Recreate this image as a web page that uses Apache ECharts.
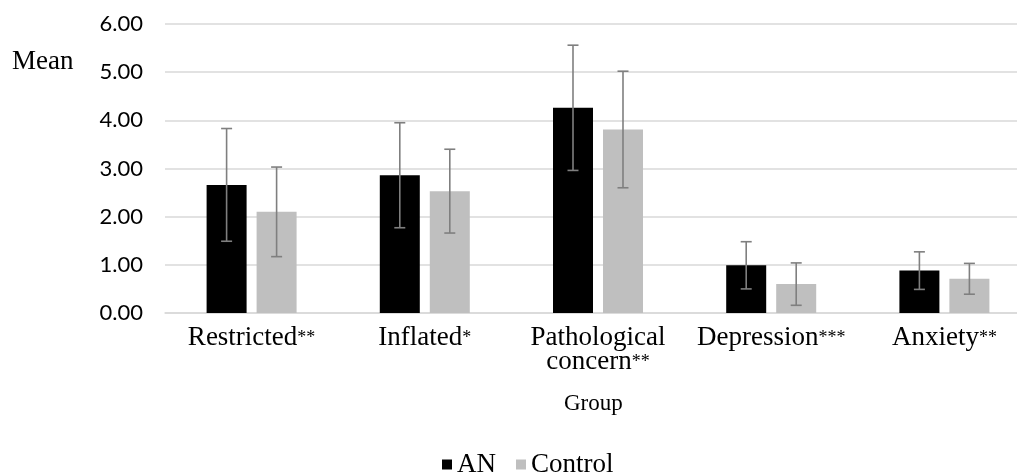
<!DOCTYPE html>
<html>
<head>
<meta charset="utf-8">
<script src="https://cdn.jsdelivr.net/npm/echarts@6/dist/echarts.min.js"></script>
<style>html,body{margin:0;padding:0;background:#fff;overflow:hidden;width:1017px;height:474px;}#c{width:1031px;height:474px;}</style>
</head>
<body>
<div id="c"></div>
<script>
var categories = ['Restricted', 'Inflated', 'Pathological\nconcern', 'Depression', 'Anxiety'];
var stars = ['**', '*', '**', '***', '**'];
var anMean = [2.66, 2.86, 4.26, 0.99, 0.88];
var anSD = [1.17, 1.09, 1.30, 0.49, 0.39];
var ctrlMean = [2.10, 2.53, 3.81, 0.60, 0.71];
var ctrlSD = [0.93, 0.87, 1.21, 0.44, 0.32];
var yTicks = [0, 1, 2, 3, 4, 5, 6];

var chart = echarts.init(document.getElementById('c'), null, {renderer: 'canvas'});
var serif = 'Liberation Serif';
var BW = 40, GAP = 10;

function errSeries(name, means, sds, offset) {
  return {
    type: 'custom',
    name: name + ' err',
    z: 10,
    silent: true,
    data: means.map(function (m, i) { return [i, m - sds[i], m + sds[i]]; }),
    renderItem: function (params, api) {
      var lo = api.coord([api.value(0), api.value(1)]);
      var hi = api.coord([api.value(0), api.value(2)]);
      var x = lo[0] + offset;
      var cap = 5.5;
      var st = {stroke: '#7f7f7f', lineWidth: 1.6};
      return {
        type: 'group',
        children: [
          {type: 'line', shape: {x1: x, y1: hi[1], x2: x, y2: lo[1]}, style: st},
          {type: 'line', shape: {x1: x - cap, y1: hi[1], x2: x + cap, y2: hi[1]}, style: st},
          {type: 'line', shape: {x1: x - cap, y1: lo[1], x2: x + cap, y2: lo[1]}, style: st}
        ]
      };
    }
  };
}

var option = {
  animation: false,
  backgroundColor: '#ffffff',
  grid: {left: 165, top: 24, right: 0, bottom: 161, containLabel: false},
  legend: {
    data: ['AN', 'Control'],
    left: 437, top: 446,
    icon: 'rect', itemWidth: 10, itemHeight: 10, itemGap: 20,
    textStyle: {fontFamily: serif, fontSize: 27, color: '#000'}
  },
  xAxis: {
    type: 'category',
    data: categories,
    axisTick: {show: false},
    axisLine: {lineStyle: {color: '#d9d9d9', width: 1.5}},
    axisLabel: {
      interval: 0,
      margin: 13,
      formatter: function (v, i) {
        var lines = v.split('\n');
        var out = lines.map(function (l, k) {
          return '{a|' + l + '}' + (k === lines.length - 1 ? '{s|' + stars[i] + '}' : '');
        });
        return out.join('\n');
      },
      rich: {
        a: {fontFamily: serif, fontSize: 27, color: '#000', lineHeight: 24},
        s: {fontFamily: serif, fontSize: 18, color: '#000', lineHeight: 24, verticalAlign: 'middle'}
      }
    }
  },
  yAxis: {
    type: 'value',
    min: 0, max: 6, interval: 1,
    axisLine: {show: false},
    axisTick: {show: false},
    splitLine: {lineStyle: {color: '#d9d9d9', width: 1.5}},
    axisLabel: {
      margin: 22,
      fontFamily: 'Lato', fontSize: 22, color: '#000',
      formatter: function (v) { return v.toFixed(2); }
    }
  },
  graphic: [
    {type: 'text', left: 12, top: 48, style: {text: 'Mean', font: '27px "Liberation Serif"', fill: '#000'}},
    {type: 'text', left: 564, top: 392, style: {text: 'Group', font: '23px "Liberation Serif"', fill: '#000'}}
  ],
  series: [
    {name: 'AN', type: 'bar', data: anMean, barWidth: BW, barGap: (GAP / BW * 100) + '%',
     itemStyle: {color: '#000000'}},
    {name: 'Control', type: 'bar', data: ctrlMean, barWidth: BW,
     itemStyle: {color: '#bfbfbf'}},
    errSeries('AN', anMean, anSD, -(BW + GAP) / 2),
    errSeries('Control', ctrlMean, ctrlSD, (BW + GAP) / 2)
  ]
};
chart.setOption(option);
</script>
</body>
</html>
